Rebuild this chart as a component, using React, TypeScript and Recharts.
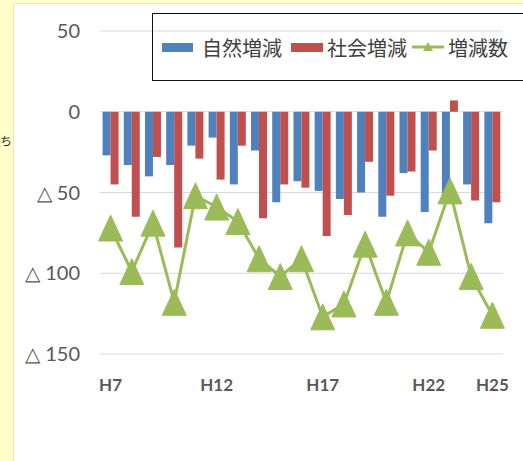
import React from 'react';
import { ComposedChart, Bar, Line, XAxis, YAxis, CartesianGrid } from 'recharts';

const categories = ['H7', 'H8', 'H9', 'H10', 'H11', 'H12', 'H13', 'H14', 'H15', 'H16', 'H17', 'H18', 'H19', 'H20', 'H21', 'H22', 'H23', 'H24', 'H25'];
const natural = [-27, -33, -40, -33, -21, -16, -45, -24, -56, -43, -49, -54, -50, -65, -38, -62, -55, -45, -69];
const social = [-45, -65, -28, -84, -29, -42, -21, -66, -45, -47, -77, -64, -31, -52, -37, -24, 7, -55, -56];
const total = [-72, -99, -69, -118, -52, -59, -68, -91, -102, -91, -127, -119, -82, -118, -75, -87, -49, -102, -126];
const xTicks = ['H7', 'H12', 'H17', 'H22', 'H25'];
const yTicks = [50, 0, -50, -100, -150];

const data = categories.map((name, i) => ({
  name,
  natural: natural[i],
  social: social[i],
  total: total[i],
}));

const BLUE = '#4F81BD';
const RED = '#C0504D';
const GREEN = '#9BBB59';

const triangle = (props: any) => {
  const { cx, cy, index } = props;
  if (cx == null || cy == null) return <g key={`t-${index}`} />;
  return (
    <path
      key={`t-${index}`}
      d={`M${cx},${cy - 13} L${cx + 12},${cy + 13} L${cx - 12},${cy + 13} Z`}
      fill={GREEN}
      stroke={GREEN}
    />
  );
};

const LegendBox = () => (
  <div
    style={{
      position: 'absolute',
      left: 152,
      top: 13,
      width: 380,
      height: 68,
      border: '1.5px solid #111',
      display: 'flex',
      alignItems: 'center',
      fontFamily: '"Noto Sans CJK JP", sans-serif',
      fontSize: 20,
      color: '#404040',
      boxSizing: 'border-box',
      paddingLeft: 9,
      whiteSpace: 'nowrap',
    }}
  >
    <span style={{ width: 31, height: 9, background: BLUE, display: 'inline-block' }} />
    <span style={{ marginLeft: 9 }}>自然増減</span>
    <span style={{ width: 32, height: 9, background: RED, display: 'inline-block', marginLeft: 9 }} />
    <span style={{ marginLeft: 4 }}>社会増減</span>
    <svg width={32} height={14} style={{ marginLeft: 5 }}>
      <line x1={0} y1={7} x2={32} y2={7} stroke={GREEN} strokeWidth={3} />
      <path d="M16,2 L21,11 L11,11 Z" fill={GREEN} />
    </svg>
    <span style={{ marginLeft: 4 }}>増減数</span>
  </div>
);

const App: React.FC = () => {
  return (
    <div
      style={{
        position: 'absolute',
        left: 0,
        top: 0,
        width: 523,
        height: 461,
        background: '#FFFFCC',
        overflow: 'hidden',
      }}
    >
      <div style={{ position: 'absolute', left: 0, top: 132, fontSize: 12, fontFamily: '"Noto Sans CJK JP", sans-serif', color: '#333' }}>
        ち
      </div>
      <div
        style={{
          position: 'absolute',
          left: 13,
          top: 3,
          width: 520,
          height: 470,
          background: '#FFFFFF',
          border: '1px solid #E8E8B8',
        }}
      >
        <ComposedChart
          width={509}
          height={457}
          data={data}
          margin={{ top: 27, right: 20, left: 0, bottom: 77 }}
          barGap={0}
          barCategoryGap="12%"
        >
          <CartesianGrid vertical={false} stroke="#D9D9D9" />
          <XAxis
            dataKey="name"
            ticks={xTicks}
            axisLine={false}
            tickLine={false}
            tickSize={0}
            tickMargin={25}
            height={30}
            tick={{ fill: '#595959', fontSize: 17, fontWeight: 'bold', fontFamily: 'Lato, sans-serif' }}
          />
          <YAxis
            domain={[-150, 50]}
            ticks={yTicks}
            width={86}
            axisLine={false}
            tickLine={false}
            tickSize={0}
            tickMargin={20}
            tickFormatter={(v: number) => (v < 0 ? `△ ${-v}` : `${v}`)}
            tick={{ fill: '#595959', fontSize: 20, fontFamily: 'Lato, sans-serif' }}
          />
          <Bar dataKey="natural" fill={BLUE} isAnimationActive={false} />
          <Bar dataKey="social" fill={RED} isAnimationActive={false} />
          <Line
            dataKey="total"
            stroke={GREEN}
            strokeWidth={3}
            dot={triangle}
            activeDot={false}
            isAnimationActive={false}
          />
        </ComposedChart>
      </div>
      <LegendBox />
    </div>
  );
};

export default App;
